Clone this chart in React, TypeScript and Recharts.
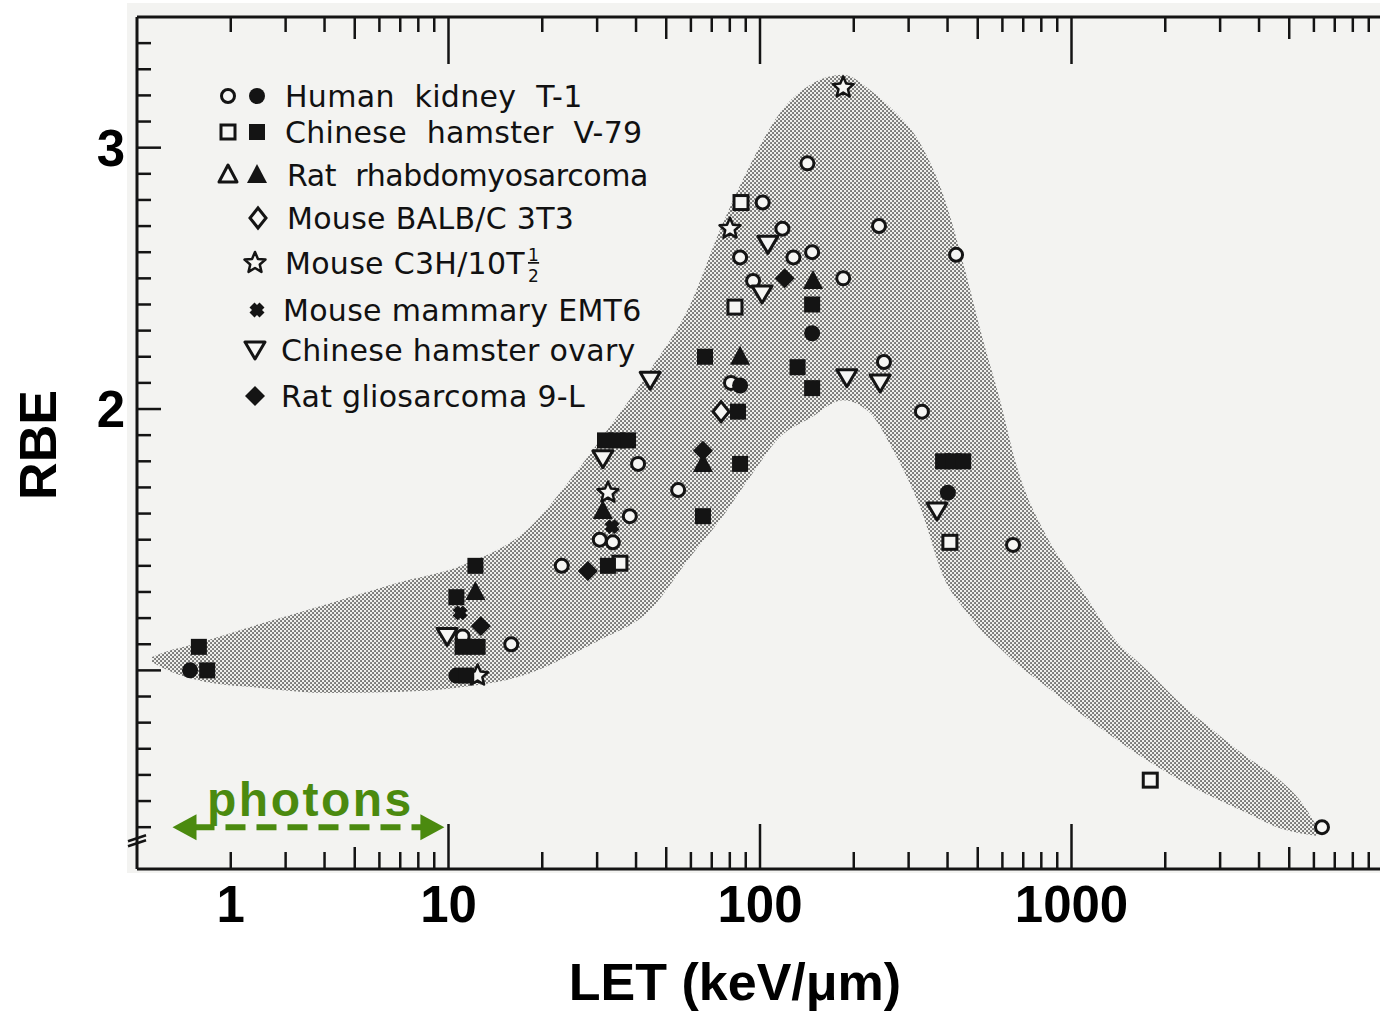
import React from 'react';
import { ComposedChart, XAxis, YAxis, Area, Scatter, ReferenceLine, Legend } from 'recharts';

// ---------------- Data (LET in keV/µm, RBE) ----------------
const bandLET = [1.117, 1.23, 1.558, 2.538, 4.164, 6.834, 11.13, 18.26, 24.55, 30.64, 44.36, 59.6, 74.4, 92.9, 115.9, 144.7, 184.7, 225.5, 267.3, 326.3, 392.6, 455.1, 519.9, 589.6, 668.4, 834.2, 1065, 1359, 1747, 2230, 2847, 3660, 4670, 5414, 6184];
const bandHigh = [1.051, 1.07, 1.104, 1.181, 1.257, 1.334, 1.403, 1.548, 1.728, 1.881, 2.149, 2.398, 2.685, 2.934, 3.133, 3.24, 3.279, 3.221, 3.144, 3.018, 2.8, 2.532, 2.264, 2.034, 1.778, 1.51, 1.319, 1.127, 1.001, 0.875, 0.771, 0.668, 0.58, 0.503, 0.396];
const bandLow = [1.032, 1.005, 0.963, 0.932, 0.913, 0.917, 0.936, 0.989, 1.058, 1.116, 1.231, 1.433, 1.575, 1.74, 1.893, 1.965, 2.034, 1.985, 1.843, 1.625, 1.345, 1.231, 1.146, 1.085, 1.024, 0.936, 0.836, 0.745, 0.656, 0.58, 0.515, 0.454, 0.396, 0.377, 0.366];

const kidneyOpen = [[11.1, 1.13], [15.9, 1.1], [23.1, 1.4], [30.6, 1.5], [33.7, 1.49], [38.2, 1.59], [40.6, 1.79], [54.6, 1.69], [80.7, 2.1], [86.3, 2.58], [95.0, 2.49], [102, 2.79], [118, 2.69], [128, 2.58], [142, 2.94], [147, 2.6], [185, 2.5], [241, 2.7], [250, 2.18], [331, 1.99], [426, 2.59], [649, 1.48], [6370, 0.4]];
const kidneyFilled = [[1.48, 1.0], [10.6, 0.98], [86.3, 2.09], [147, 2.29], [401, 1.68]];
const v79Open = [[35.5, 1.41], [86.9, 2.79], [83.1, 2.39], [407, 1.49], [1790, 0.58]];
const v79Filled = [[1.58, 1.09], [1.68, 1.0], [12.2, 1.4], [10.6, 1.28], [11.1, 1.09], [12.4, 1.09], [11.4, 0.98], [31.8, 1.88], [34.8, 1.88], [37.7, 1.88], [32.5, 1.4], [66.6, 2.2], [65.6, 1.59], [86.3, 1.79], [85.0, 1.99], [147, 2.4], [132, 2.16], [147, 2.08], [387, 1.8], [417, 1.8], [449, 1.8]];
const rhabdoOpen: number[][] = [];
const rhabdoFilled = [[12.2, 1.3], [31.3, 1.61], [65.6, 1.79], [86.3, 2.2], [148, 2.49]];
const balb3T3 = [[75, 1.99]];
const c3h10T = [[12.4, 0.98], [32.5, 1.68], [80.1, 2.69], [185, 3.23]];
const emt6 = [[10.9, 1.22], [33.5, 1.55]];
const choOvary = [[9.9, 1.13], [31.3, 1.81], [44.4, 2.11], [106, 2.63], [101.5, 2.44], [190, 2.12], [243, 2.1], [370, 1.61]];
const glio9L = [[12.7, 1.17], [28.0, 1.38], [120, 2.5], [65.6, 1.84]];

const legendLabels = ['Human kidney T-1', 'Chinese hamster V-79', 'Rat rhabdomyosarcoma', 'Mouse BALB/C 3T3', 'Mouse C3H/10T', 'Mouse mammary EMT6', 'Chinese hamster ovary', 'Rat gliosarcoma 9-L'];

const xTicks = [2, 3, 4, 5, 6, 7, 8, 9, 10, 20, 30, 40, 50, 60, 70, 80, 90, 100, 200, 300, 400, 500, 600, 700, 800, 900, 1000, 2000, 3000, 4000, 5000, 6000, 7000, 8000, 9000];
const xMajor = [10, 100, 1000];
const xMedium = [5, 50, 500, 5000];
const xLabelValues = [2, 10, 100, 1000];
const xLabelTexts = ['1', '10', '100', '1000'];
const yTicks = [0.35, 0.4, 0.5, 0.6, 0.7, 0.8, 0.9, 1.0, 1.1, 1.2, 1.3, 1.4, 1.5, 1.6, 1.7, 1.8, 1.9, 2.0, 2.1, 2.2, 2.3, 2.4, 2.5, 2.6, 2.7, 2.8, 2.9, 3.0, 3.1, 3.2, 3.3, 3.4];
const yMajor = [1, 2, 3];
const yLabelValues = [2, 3];
const yBreak = 0.35;
const photonLET = [1.3, 9.7];
const photonRBE = 0.4;

// ---------------- Helpers ----------------
const INK = '#141414';
const PAPER = '#f6f6f4';
const GREEN = '#4b8a0f';
const has = (arr: number[], v: number) => arr.some((a) => Math.abs(a - v) < 1e-6);
const toPts = (arr: number[][]) => arr.map(([x, y]) => ({ x, y }));
const bandData = bandLET.map((x, i) => ({ x, lo: bandLow[i], hi: bandHigh[i] }));

function starPoints(cx: number, cy: number, ro: number, ri: number) {
  const p: string[] = [];
  for (let i = 0; i < 10; i++) {
    const r = i % 2 === 0 ? ro : ri;
    const a = -Math.PI / 2 + (i * Math.PI) / 5;
    p.push(`${cx + r * Math.cos(a)},${cy + r * Math.sin(a)}`);
  }
  return p.join(' ');
}

function Mark({ kind, cx, cy }: { kind: string; cx: number; cy: number }) {
  if (cx == null || cy == null || isNaN(cx) || isNaN(cy)) return null;
  switch (kind) {
    case 'circleOpen':
      return <circle cx={cx} cy={cy} r={6.5} fill={PAPER} stroke={INK} strokeWidth={3} />;
    case 'circleFilled':
      return <circle cx={cx} cy={cy} r={8} fill={INK} />;
    case 'squareOpen':
      return <rect x={cx - 7} y={cy - 7} width={14} height={14} fill={PAPER} stroke={INK} strokeWidth={3} />;
    case 'squareFilled':
      return <rect x={cx - 8} y={cy - 8} width={16} height={16} fill={INK} />;
    case 'triUpOpen':
      return <polygon points={`${cx},${cy - 10} ${cx + 9},${cy + 7} ${cx - 9},${cy + 7}`} fill={PAPER} stroke={INK} strokeWidth={3} strokeLinejoin="round" />;
    case 'triUpFilled':
      return <polygon points={`${cx},${cy - 11} ${cx + 10},${cy + 8} ${cx - 10},${cy + 8}`} fill={INK} />;
    case 'diamondOpen':
      return <polygon points={`${cx},${cy - 10} ${cx + 8},${cy} ${cx},${cy + 10} ${cx - 8},${cy}`} fill={PAPER} stroke={INK} strokeWidth={3} />;
    case 'diamondFilled':
      return <polygon points={`${cx},${cy - 10} ${cx + 10},${cy} ${cx},${cy + 10} ${cx - 10},${cy}`} fill={INK} />;
    case 'starOpen':
      return <polygon points={starPoints(cx, cy, 11, 5)} fill={PAPER} stroke={INK} strokeWidth={2.5} strokeLinejoin="round" />;
    case 'blob':
      return (
        <g>
          <line x1={cx - 5} y1={cy - 5} x2={cx + 5} y2={cy + 5} stroke={INK} strokeWidth={7} />
          <line x1={cx - 5} y1={cy + 5} x2={cx + 5} y2={cy - 5} stroke={INK} strokeWidth={7} />
        </g>
      );
    case 'triDownOpen':
      return <polygon points={`${cx - 10},${cy - 8} ${cx + 10},${cy - 8} ${cx},${cy + 9}`} fill={PAPER} stroke={INK} strokeWidth={3} strokeLinejoin="round" />;
    default:
      return null;
  }
}

const series = [
  { id: 'kidneyOpen', data: kidneyOpen, kind: 'circleOpen' },
  { id: 'v79Open', data: v79Open, kind: 'squareOpen' },
  { id: 'rhabdoOpen', data: rhabdoOpen, kind: 'triUpOpen' },
  { id: 'balb3T3', data: balb3T3, kind: 'diamondOpen' },
  { id: 'choOvary', data: choOvary, kind: 'triDownOpen' },
  { id: 'c3h10T', data: c3h10T, kind: 'starOpen' },
  { id: 'kidneyFilled', data: kidneyFilled, kind: 'circleFilled' },
  { id: 'v79Filled', data: v79Filled, kind: 'squareFilled' },
  { id: 'rhabdoFilled', data: rhabdoFilled, kind: 'triUpFilled' },
  { id: 'emt6', data: emt6, kind: 'blob' },
  { id: 'glio9L', data: glio9L, kind: 'diamondFilled' },
];

const legendKinds = [
  ['circleOpen', 'circleFilled'],
  ['squareOpen', 'squareFilled'],
  ['triUpOpen', 'triUpFilled'],
  ['diamondOpen'],
  ['starOpen'],
  ['blob'],
  ['triDownOpen'],
  ['diamondFilled'],
];

// ---------------- Axis ticks ----------------
const tickFont = "'Liberation Sans', Arial, Helvetica, sans-serif";

const BottomTick = (p: any) => {
  const v = p.payload.value;
  const { x, y } = p;
  const len = has(xMajor, v) ? 45 : has(xMedium, v) ? 22 : 17;
  const li = xLabelValues.findIndex((a) => Math.abs(a - v) < 1e-6);
  return (
    <g>
      <line x1={x} x2={x} y1={y} y2={y - len} stroke={INK} strokeWidth={2.5} />
      {li >= 0 && (
        <text x={x} y={y + 53} textAnchor="middle" fontFamily={tickFont} fontWeight="bold" fontSize={51} fill="#000">
          {xLabelTexts[li]}
        </text>
      )}
    </g>
  );
};

const TopTick = (p: any) => {
  const v = p.payload.value;
  const { x, y } = p;
  const len = has(xMajor, v) ? 47 : has(xMedium, v) ? 22 : 15;
  return <line x1={x} x2={x} y1={y} y2={y + len} stroke={INK} strokeWidth={2.5} />;
};

const LeftTick = (p: any) => {
  const v = p.payload.value;
  const { x, y } = p;
  if (Math.abs(v - yBreak) < 1e-6) {
    return (
      <g stroke={INK} strokeWidth={2.5}>
        <line x1={x - 9} y1={y + 1} x2={x + 9} y2={y - 5} />
        <line x1={x - 9} y1={y + 6} x2={x + 9} y2={y} />
      </g>
    );
  }
  const len = has(yMajor, v) ? 24 : 14;
  return (
    <g>
      <line x1={x} x2={x + len} y1={y} y2={y} stroke={INK} strokeWidth={2.5} />
      {has(yLabelValues, v) && (
        <text x={x - 12} y={y + 18} textAnchor="end" fontFamily={tickFont} fontWeight="bold" fontSize={51} fill="#000">
          {String(Math.round(v))}
        </text>
      )}
    </g>
  );
};

const RightTick = (p: any) => {
  const v = p.payload.value;
  const { x, y } = p;
  if (Math.abs(v - yBreak) < 1e-6) {
    return (
      <g stroke={INK} strokeWidth={2.5}>
        <line x1={x - 14} y1={y + 1} x2={x + 4} y2={y - 5} />
        <line x1={x - 14} y1={y + 6} x2={x + 4} y2={y} />
      </g>
    );
  }
  const len = has(yMajor, v) ? 24 : 14;
  return <line x1={x} x2={x - len} y1={y} y2={y} stroke={INK} strokeWidth={2.5} />;
};

const LetTitle = (p: any) => {
  const vb = p.viewBox || {};
  return (
    <text x={vb.x + vb.width / 2 - 25} y={vb.y + 131} textAnchor="middle" fontFamily={tickFont} fontWeight="bold" fontSize={52} fill="#000">
      LET (keV/μm)
    </text>
  );
};

const RbeTitle = (p: any) => {
  const vb = p.viewBox || {};
  const cx = vb.x + 56;
  const cy = vb.y + vb.height / 2 + 2;
  return (
    <text x={cx} y={cy} transform={`rotate(-90 ${cx} ${cy})`} textAnchor="middle" fontFamily={tickFont} fontWeight="bold" fontSize={52} fill="#000">
      RBE
    </text>
  );
};

const PhotonArrow = (p: any) => {
  const { x1, y1, x2, y2 } = p;
  if ([x1, y1, x2, y2].some((v) => v == null || isNaN(v))) return null;
  const head = 24;
  return (
    <g>
      <line x1={x1 + head - 2} y1={y1} x2={x2 - head + 2} y2={y2} stroke={GREEN} strokeWidth={6} strokeDasharray="20 11" />
      <polygon points={`${x1},${y1} ${x1 + head},${y1 - 13} ${x1 + head},${y1 + 13}`} fill={GREEN} />
      <polygon points={`${x2},${y2} ${x2 - head},${y2 - 13} ${x2 - head},${y2 + 13}`} fill={GREEN} />
      <text x={(x1 + x2) / 2 + 2} y={y1 - 11} textAnchor="middle" fontFamily={tickFont} fontWeight="bold" fontSize={48} letterSpacing={2.5} fill={GREEN}>
        photons
      </text>
    </g>
  );
};

// ---------------- Legend ----------------
const legendFont = "'DejaVu Sans', Verdana, sans-serif";
const rowY = [24, 60, 103, 146, 191, 238, 278, 324];
const rowTextX = [75, 75, 77, 77, 75, 73, 71, 71];
const singleX = [48, 45, 47, 45, 45];

const LegendBox = () => (
  <svg width={470} height={360} style={{ display: 'block', overflow: 'visible' }}>
    {legendLabels.map((label, i) => {
      const kinds = legendKinds[i];
      const cy = rowY[i];
      const wide = i < 3;
      return (
        <g key={label}>
          {kinds.length === 2 ? (
            <>
              <Mark kind={kinds[0]} cx={18} cy={cy} />
              <Mark kind={kinds[1]} cx={47} cy={cy} />
            </>
          ) : (
            <Mark kind={kinds[0]} cx={singleX[i - 3]} cy={cy} />
          )}
          <text x={rowTextX[i]} y={cy + 11} fontFamily={legendFont} fontSize={30} wordSpacing={wide ? 10 : 0} letterSpacing={i === 2 ? -0.4 : 0.3} fill="#111">
            {label}
            {i === 4 && (
              <>
                <tspan fontSize={17} dx={3} dy={-13} textDecoration="underline">1</tspan>
                <tspan fontSize={17} dx={-11} dy={21}>2</tspan>
              </>
            )}
          </text>
        </g>
      );
    })}
  </svg>
);

// ---------------- Chart ----------------
export default function App() {
  return (
    <div style={{ position: 'absolute', left: 0, top: 0, width: 1380, height: 1011, overflow: 'hidden', background: '#ffffff' }}>
      <div style={{ position: 'absolute', left: 127, top: 3, width: 1253, height: 870, background: '#f3f3f1' }} />
      <svg width={0} height={0} style={{ position: 'absolute' }}>
        <defs>
          <pattern id="stipple" width={4} height={4} patternUnits="userSpaceOnUse">
            <rect width={4} height={4} fill="#efefec" />
            <rect x={0.3} y={0.3} width={1.45} height={1.45} fill="#1c1c1c" />
            <rect x={2.3} y={2.3} width={1.45} height={1.45} fill="#1c1c1c" />
          </pattern>
        </defs>
      </svg>
      <div style={{ position: 'absolute', left: 0, top: 0 }}>
        <ComposedChart width={1383} height={1011} data={bandData} margin={{ top: 0, right: 0, bottom: 0, left: 0 }}>
          <XAxis
            xAxisId="b"
            dataKey="x"
            type="number"
            scale="log"
            domain={[1, 10000]}
            allowDataOverflow
            ticks={xTicks}
            interval={0}
            tickSize={0}
            tickMargin={0}
            tickLine={false}
            axisLine={{ stroke: INK, strokeWidth: 3 }}
            height={142}
            tick={BottomTick}
            label={<LetTitle />}
          />
          <XAxis
            xAxisId="t"
            orientation="top"
            dataKey="x"
            type="number"
            scale="log"
            domain={[1, 10000]}
            allowDataOverflow
            ticks={xTicks}
            interval={0}
            tickSize={0}
            tickMargin={0}
            tickLine={false}
            axisLine={{ stroke: INK, strokeWidth: 3 }}
            height={17}
            tick={TopTick}
          />
          <YAxis
            yAxisId="l"
            dataKey="y"
            type="number"
            domain={[0.24, 3.5]}
            allowDataOverflow
            ticks={yTicks}
            interval={0}
            tickSize={0}
            tickMargin={0}
            tickLine={false}
            axisLine={{ stroke: INK, strokeWidth: 3 }}
            width={137}
            tick={LeftTick}
            label={<RbeTitle />}
          />
          <YAxis
            yAxisId="r"
            orientation="right"
            dataKey="y"
            type="number"
            domain={[0.24, 3.5]}
            allowDataOverflow
            ticks={yTicks}
            interval={0}
            tickSize={0}
            tickMargin={0}
            tickLine={false}
            axisLine={{ stroke: INK, strokeWidth: 3 }}
            width={0}
            tick={RightTick}
          />
          <Legend
            layout="horizontal"
            verticalAlign="middle"
            align="center"
            content={() => <LegendBox />}
            wrapperStyle={{ position: 'absolute', left: 210, top: 72, width: 470, height: 360 }}
          />
          <Area
            xAxisId="b"
            yAxisId="l"
            dataKey={(d: any) => [d.lo, d.hi]}
            type="monotone"
            fill="url(#stipple)"
            fillOpacity={1}
            stroke="none"
            isAnimationActive={false}
            dot={false}
            activeDot={false}
          />
          <ReferenceLine
            xAxisId="b"
            yAxisId="l"
            segment={[{ x: photonLET[0], y: photonRBE }, { x: photonLET[1], y: photonRBE }]}
            shape={PhotonArrow}
            stroke={GREEN}
          />
          {series.map((s) => (
            <Scatter
              key={s.id}
              name={s.id}
              xAxisId="b"
              yAxisId="l"
              data={toPts(s.data)}
              dataKey="y"
              isAnimationActive={false}
              shape={(props: any) => <Mark kind={s.kind} cx={props.cx} cy={props.cy} />}
            />
          ))}
        </ComposedChart>
      </div>
    </div>
  );
}
